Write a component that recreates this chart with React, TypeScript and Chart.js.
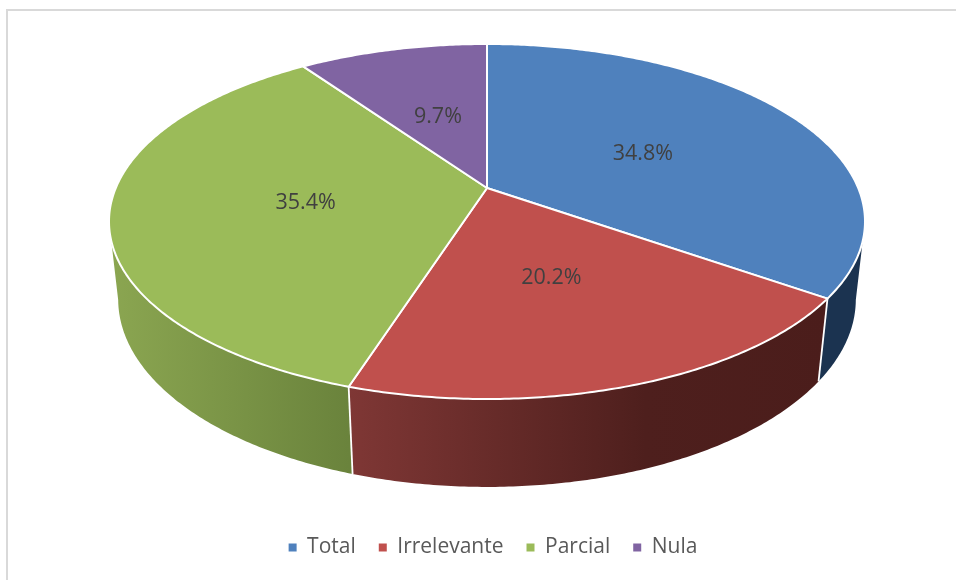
import { useEffect, useRef } from "react";
import { Chart, registerables } from "chart.js";

Chart.register(...registerables);

const categories = ["Total", "Irrelevante", "Parcial", "Nula"];
const shares = [34.8, 20.2, 35.4, 9.7];
const topColors = ["#4f81bd", "#c0504d", "#9bbb59", "#8064a2"];
const sideStops: Record<string, [number, string][]> = {
  Total: [[0, "#1b3350"], [1, "#1b3350"]],
  Irrelevante: [[0, "#7f3735"], [0.62, "#4e1f1d"], [1, "#4b1d1b"]],
  Parcial: [[0, "#8ba651"], [1, "#6a833c"]],
  Nula: [[0, "#4c3b62"], [1, "#4c3b62"]],
};

// Perspective of the tilted disc: (u, v) on the unit circle, h = 0 top face, 1 bottom face
const CX = 487;
const CY = 188;
const BX = 371.2;
const AY = 171.2;
const K = 0.1887;
const DROP = 78.5;
const M = 0.024;

function project(theta: number, r: number, h: number): [number, number] {
  const u = Math.sin(theta) * r;
  const v = Math.cos(theta) * r;
  const w = 1 + K * v + M * h;
  return [CX + (BX * u) / w, CY + (-AY * v + DROP * h) / w];
}

function rimPath(ctx: CanvasRenderingContext2D, a: number, b: number, h: number, first: boolean) {
  const steps = Math.max(2, Math.ceil(Math.abs(b - a) / 0.01));
  for (let i = 0; i <= steps; i++) {
    const t = a + ((b - a) * i) / steps;
    const [x, y] = project(t, 1, h);
    if (first && i === 0) ctx.moveTo(x, y);
    else ctx.lineTo(x, y);
  }
}

const pie3d = {
  id: "pie3d",
  beforeDatasetsDraw(chart: any) {
    const ctx: CanvasRenderingContext2D = chart.ctx;
    const arcs = chart.getDatasetMeta(0).data;
    const range = arcs.map((arc: any) => {
      const p = arc.getProps(["startAngle", "endAngle"], true);
      return [p.startAngle + Math.PI / 2, p.endAngle + Math.PI / 2];
    });
    const frontA = Math.acos(-K);
    const frontB = 2 * Math.PI - frontA;

    ctx.save();
    ctx.lineJoin = "round";

    // side wall
    range.forEach(([s, e]: number[], i: number) => {
      const a = Math.max(s, frontA);
      const b = Math.min(e, frontB);
      if (b <= a) return;
      const [x0] = project(a, 1, 0);
      const [x1] = project(b, 1, 0);
      const g = ctx.createLinearGradient(Math.min(x0, x1), 0, Math.max(x0, x1), 0);
      sideStops[categories[i]].forEach(([o, c]) => g.addColorStop(o, c));
      ctx.beginPath();
      rimPath(ctx, a, b, 0, true);
      rimPath(ctx, b, a, 1, false);
      ctx.closePath();
      ctx.fillStyle = g;
      ctx.fill();
    });

    // white vertical edges on the wall
    ctx.strokeStyle = "#ffffff";
    ctx.lineWidth = 1.8;
    range.forEach(([s]: number[]) => {
      if (s <= frontA || s >= frontB) return;
      const [x0, y0] = project(s, 1, 0);
      const [x1, y1] = project(s, 1, 1);
      ctx.beginPath();
      ctx.moveTo(x0, y0);
      ctx.lineTo(x1, y1);
      ctx.stroke();
    });

    // top face
    range.forEach(([s, e]: number[], i: number) => {
      ctx.beginPath();
      ctx.moveTo(CX, CY);
      rimPath(ctx, s, e, 0, false);
      ctx.closePath();
      ctx.fillStyle = topColors[i];
      ctx.fill();
      ctx.lineWidth = 2;
      ctx.strokeStyle = "#ffffff";
      ctx.stroke();
    });

    // percentage labels
    ctx.fillStyle = "#404040";
    ctx.font = "21.5px 'Open Sans'";
    ctx.textAlign = "center";
    ctx.textBaseline = "middle";
    range.forEach(([s, e]: number[], i: number) => {
      const [x, y] = project((s + e) / 2, 0.49, 0);
      ctx.fillText(shares[i].toFixed(1) + "%", x + 1, y + 2.5);
    });
    ctx.restore();
    return false;
  },
};

export default function App() {
  const ref = useRef<HTMLCanvasElement>(null);
  useEffect(() => {
    const chart = new Chart(ref.current!, {
      type: "pie",
      data: {
        labels: categories,
        datasets: [{ data: shares, backgroundColor: topColors, borderWidth: 0 }],
      },
      options: {
        responsive: false,
        animation: false,
        layout: { padding: { bottom: 12, left: 30 } },
        plugins: {
          tooltip: { enabled: false },
          legend: {
            position: "bottom",
            labels: {
              boxWidth: 8,
              boxHeight: 8,
              padding: 23,
              color: "#595959",
              font: { family: "'Open Sans'", size: 21 },
            },
          },
        },
      },
      plugins: [pie3d],
    } as any);
    return () => chart.destroy();
  }, []);
  return (
    <div style={{ position: "absolute", left: 0, top: 0, width: 956, height: 580, background: "#fff", overflow: "hidden" }}>
      <div style={{ position: "absolute", left: 6, top: 9, width: 950, height: 571, borderTop: "2px solid #d9d9d9", borderLeft: "2px solid #d9d9d9", boxSizing: "border-box" }} />
      <canvas ref={ref} width={956} height={580} style={{ position: "absolute", left: 0, top: 0 }} />
    </div>
  );
}
